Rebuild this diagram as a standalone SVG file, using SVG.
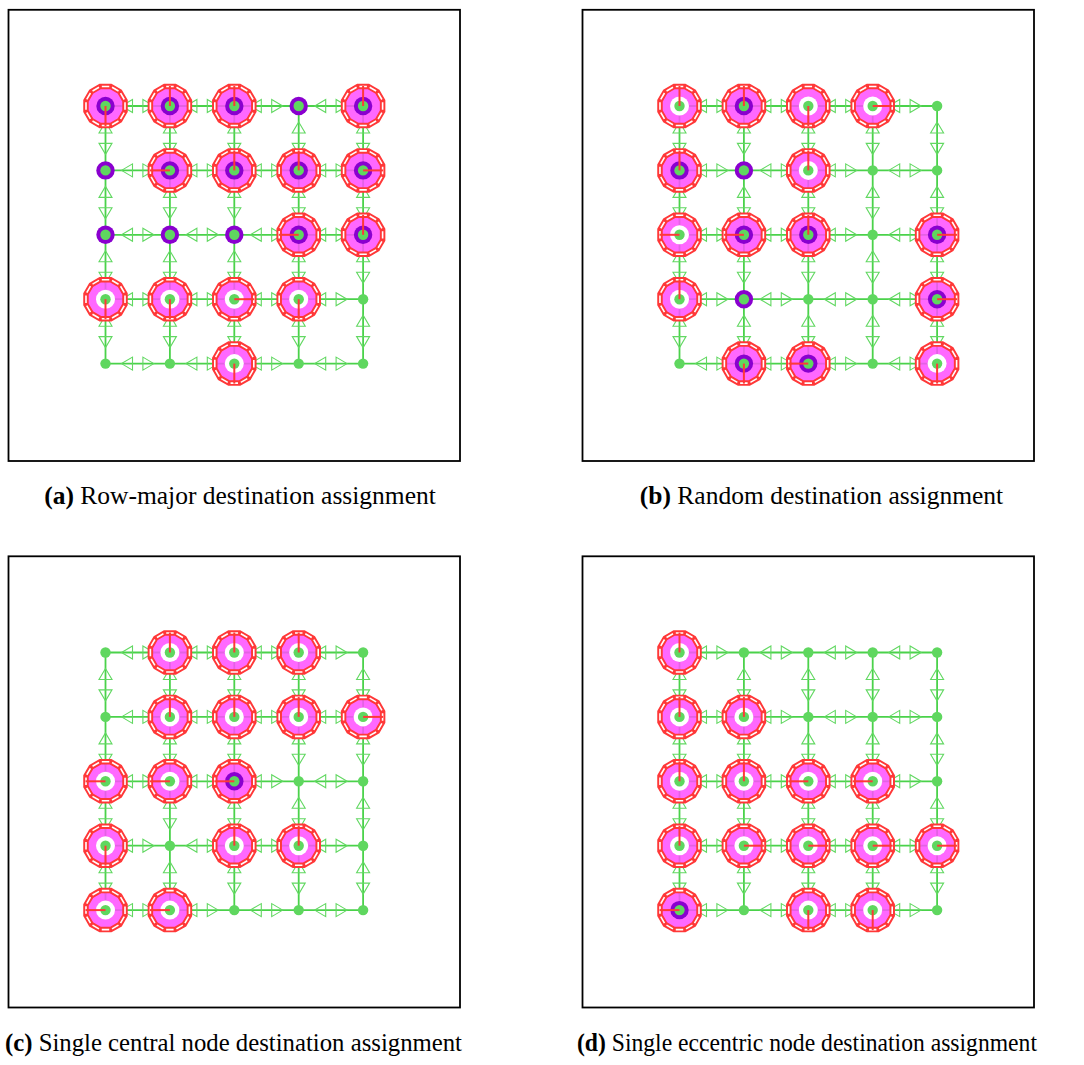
<svg xmlns="http://www.w3.org/2000/svg" xmlns:xlink="http://www.w3.org/1999/xlink" width="1084" height="1065" viewBox="0 0 1084 1065">
  <style>
    .frame{fill:none;stroke:#000;stroke-width:1.8}
    .e{stroke:#4ad24a;stroke-width:1.8;marker-start:url(#ah);marker-end:url(#ah)}
    .halo{fill:#ff4dff;fill-opacity:.85;stroke:none}
    .hole{fill:#fff}
    .rim{fill:none;stroke:#ff3838;stroke-width:5.5}
    .rimgap{fill:none;stroke:#fff;stroke-width:1.6;stroke-dasharray:7.46 3;stroke-dashoffset:8.96}
    .ring{fill:#8a00cf}
    .dot{fill:#5fd75f}
    .dir{fill:none;stroke:#ff3838;stroke-width:2}
    .cap{font-family:"Liberation Serif","Times New Roman",serif;font-size:25.5px;fill:#000}
  </style>
  <defs>
    <!-- hollow arrowhead, tip 16px short of the node centre -->
    <marker id="ah" markerUnits="userSpaceOnUse" viewBox="-12 -8 14 16" markerWidth="14" markerHeight="16" refX="16" refY="0" orient="auto-start-reverse" overflow="visible">
      <path d="M0,0 L-11,-6.5 L-11,6.5 Z" fill="none" stroke="#62d862" stroke-width="1.1"/>
    </marker>
    <!-- dodecagon outline of a router halo -->
    <polygon id="dg" points="19.51,5.23 14.28,14.28 5.23,19.51 -5.23,19.51 -14.28,14.28 -19.51,5.23 -19.51,-5.23 -14.28,-14.28 -5.23,-19.51 5.23,-19.51 14.28,-14.28 19.51,-5.23"/>
    <circle id="dot" class="dot" r="5.2"/>
    <circle id="ring" class="ring" r="9.2"/>
    <g id="band"><use href="#dg" class="rim"/><use href="#dg" class="rimgap"/></g>
    <g id="W"><use href="#dg" class="halo"/><circle class="hole" r="9.5"/><use href="#dot"/><use href="#band"/></g>
    <g id="P"><use href="#dg" class="halo"/><use href="#ring"/><use href="#dot"/><use href="#band"/></g>
    <g id="p"><use href="#ring"/><use href="#dot"/></g>
    <path id="dU" class="dir" d="M0,0V-20"/>
    <path id="dD" class="dir" d="M0,0V20"/>
    <path id="dL" class="dir" d="M0,0H-20"/>
    <path id="dR" class="dir" d="M0,0H20"/>
  </defs>
  <rect width="1084" height="1065" fill="#fff"/>

  <!-- ===== (a) ===== -->
  <g id="panel-a">
    <rect class="frame" x="8.5" y="9.8" width="451.5" height="451.2"/>
    <g id="a-connectors">
      <line class="e" x1="105.5" y1="106" x2="169.9" y2="106"/><line class="e" x1="169.9" y1="106" x2="234.3" y2="106"/><line class="e" x1="234.3" y1="106" x2="298.7" y2="106"/><line class="e" x1="298.7" y1="106" x2="363.1" y2="106"/>
      <line class="e" x1="105.5" y1="170.4" x2="169.9" y2="170.4"/><line class="e" x1="169.9" y1="170.4" x2="234.3" y2="170.4"/><line class="e" x1="234.3" y1="170.4" x2="298.7" y2="170.4"/><line class="e" x1="298.7" y1="170.4" x2="363.1" y2="170.4"/>
      <line class="e" x1="105.5" y1="234.8" x2="169.9" y2="234.8"/><line class="e" x1="169.9" y1="234.8" x2="234.3" y2="234.8"/><line class="e" x1="234.3" y1="234.8" x2="298.7" y2="234.8"/><line class="e" x1="298.7" y1="234.8" x2="363.1" y2="234.8"/>
      <line class="e" x1="105.5" y1="299.2" x2="169.9" y2="299.2"/><line class="e" x1="169.9" y1="299.2" x2="234.3" y2="299.2"/><line class="e" x1="234.3" y1="299.2" x2="298.7" y2="299.2"/><line class="e" x1="298.7" y1="299.2" x2="363.1" y2="299.2"/>
      <line class="e" x1="105.5" y1="363.6" x2="169.9" y2="363.6"/><line class="e" x1="169.9" y1="363.6" x2="234.3" y2="363.6"/><line class="e" x1="234.3" y1="363.6" x2="298.7" y2="363.6"/><line class="e" x1="298.7" y1="363.6" x2="363.1" y2="363.6"/>
      <line class="e" x1="105.5" y1="106" x2="105.5" y2="170.4"/><line class="e" x1="105.5" y1="170.4" x2="105.5" y2="234.8"/><line class="e" x1="105.5" y1="234.8" x2="105.5" y2="299.2"/><line class="e" x1="105.5" y1="299.2" x2="105.5" y2="363.6"/>
      <line class="e" x1="169.9" y1="106" x2="169.9" y2="170.4"/><line class="e" x1="169.9" y1="170.4" x2="169.9" y2="234.8"/><line class="e" x1="169.9" y1="234.8" x2="169.9" y2="299.2"/><line class="e" x1="169.9" y1="299.2" x2="169.9" y2="363.6"/>
      <line class="e" x1="234.3" y1="106" x2="234.3" y2="170.4"/><line class="e" x1="234.3" y1="170.4" x2="234.3" y2="234.8"/><line class="e" x1="234.3" y1="234.8" x2="234.3" y2="299.2"/><line class="e" x1="234.3" y1="299.2" x2="234.3" y2="363.6"/>
      <line class="e" x1="298.7" y1="106" x2="298.7" y2="170.4"/><line class="e" x1="298.7" y1="170.4" x2="298.7" y2="234.8"/><line class="e" x1="298.7" y1="234.8" x2="298.7" y2="299.2"/><line class="e" x1="298.7" y1="299.2" x2="298.7" y2="363.6"/>
      <line class="e" x1="363.1" y1="106" x2="363.1" y2="170.4"/><line class="e" x1="363.1" y1="170.4" x2="363.1" y2="234.8"/><line class="e" x1="363.1" y1="234.8" x2="363.1" y2="299.2"/><line class="e" x1="363.1" y1="299.2" x2="363.1" y2="363.6"/>
    </g>
    <g id="a-n0-0" transform="translate(105.5,106)"><use href="#P"/><use href="#dD"/></g>
    <g id="a-n0-1" transform="translate(169.9,106)"><use href="#P"/><use href="#dU"/></g>
    <g id="a-n0-2" transform="translate(234.3,106)"><use href="#P"/><use href="#dU"/></g>
    <g id="a-n0-3" transform="translate(298.7,106)"><use href="#p"/></g>
    <g id="a-n0-4" transform="translate(363.1,106)"><use href="#P"/><use href="#dU"/></g>
    <g id="a-n1-0" transform="translate(105.5,170.4)"><use href="#p"/></g>
    <g id="a-n1-1" transform="translate(169.9,170.4)"><use href="#P"/><use href="#dL"/></g>
    <g id="a-n1-2" transform="translate(234.3,170.4)"><use href="#P"/><use href="#dU"/></g>
    <g id="a-n1-3" transform="translate(298.7,170.4)"><use href="#P"/><use href="#dU"/></g>
    <g id="a-n1-4" transform="translate(363.1,170.4)"><use href="#P"/><use href="#dR"/></g>
    <g id="a-n2-0" transform="translate(105.5,234.8)"><use href="#p"/></g>
    <g id="a-n2-1" transform="translate(169.9,234.8)"><use href="#p"/></g>
    <g id="a-n2-2" transform="translate(234.3,234.8)"><use href="#p"/></g>
    <g id="a-n2-3" transform="translate(298.7,234.8)"><use href="#P"/><use href="#dL"/></g>
    <g id="a-n2-4" transform="translate(363.1,234.8)"><use href="#P"/><use href="#dU"/></g>
    <g id="a-n3-0" transform="translate(105.5,299.2)"><use href="#W"/><use href="#dD"/></g>
    <g id="a-n3-1" transform="translate(169.9,299.2)"><use href="#W"/><use href="#dD"/></g>
    <g id="a-n3-2" transform="translate(234.3,299.2)"><use href="#W"/><use href="#dR"/></g>
    <g id="a-n3-3" transform="translate(298.7,299.2)"><use href="#W"/><use href="#dD"/></g>
    <g id="a-n3-4" transform="translate(363.1,299.2)"><use href="#dot"/></g>
    <g id="a-n4-0" transform="translate(105.5,363.6)"><use href="#dot"/></g>
    <g id="a-n4-1" transform="translate(169.9,363.6)"><use href="#dot"/></g>
    <g id="a-n4-2" transform="translate(234.3,363.6)"><use href="#W"/><use href="#dD"/></g>
    <g id="a-n4-3" transform="translate(298.7,363.6)"><use href="#dot"/></g>
    <g id="a-n4-4" transform="translate(363.1,363.6)"><use href="#dot"/></g>
    <text class="cap" x="240" y="504" text-anchor="middle"><tspan font-weight="bold">(a)</tspan> Row-major destination assignment</text>
  </g>

  <!-- ===== (b) ===== -->
  <g id="panel-b" transform="translate(574,0)">
    <rect class="frame" x="8.5" y="9.8" width="451.5" height="451.2"/>
    <g id="b-connectors">
      <line class="e" x1="105.5" y1="106" x2="169.9" y2="106"/><line class="e" x1="169.9" y1="106" x2="234.3" y2="106"/><line class="e" x1="234.3" y1="106" x2="298.7" y2="106"/><line class="e" x1="298.7" y1="106" x2="363.1" y2="106"/>
      <line class="e" x1="105.5" y1="170.4" x2="169.9" y2="170.4"/><line class="e" x1="169.9" y1="170.4" x2="234.3" y2="170.4"/><line class="e" x1="234.3" y1="170.4" x2="298.7" y2="170.4"/><line class="e" x1="298.7" y1="170.4" x2="363.1" y2="170.4"/>
      <line class="e" x1="105.5" y1="234.8" x2="169.9" y2="234.8"/><line class="e" x1="169.9" y1="234.8" x2="234.3" y2="234.8"/><line class="e" x1="234.3" y1="234.8" x2="298.7" y2="234.8"/><line class="e" x1="298.7" y1="234.8" x2="363.1" y2="234.8"/>
      <line class="e" x1="105.5" y1="299.2" x2="169.9" y2="299.2"/><line class="e" x1="169.9" y1="299.2" x2="234.3" y2="299.2"/><line class="e" x1="234.3" y1="299.2" x2="298.7" y2="299.2"/><line class="e" x1="298.7" y1="299.2" x2="363.1" y2="299.2"/>
      <line class="e" x1="105.5" y1="363.6" x2="169.9" y2="363.6"/><line class="e" x1="169.9" y1="363.6" x2="234.3" y2="363.6"/><line class="e" x1="234.3" y1="363.6" x2="298.7" y2="363.6"/><line class="e" x1="298.7" y1="363.6" x2="363.1" y2="363.6"/>
      <line class="e" x1="105.5" y1="106" x2="105.5" y2="170.4"/><line class="e" x1="105.5" y1="170.4" x2="105.5" y2="234.8"/><line class="e" x1="105.5" y1="234.8" x2="105.5" y2="299.2"/><line class="e" x1="105.5" y1="299.2" x2="105.5" y2="363.6"/>
      <line class="e" x1="169.9" y1="106" x2="169.9" y2="170.4"/><line class="e" x1="169.9" y1="170.4" x2="169.9" y2="234.8"/><line class="e" x1="169.9" y1="234.8" x2="169.9" y2="299.2"/><line class="e" x1="169.9" y1="299.2" x2="169.9" y2="363.6"/>
      <line class="e" x1="234.3" y1="106" x2="234.3" y2="170.4"/><line class="e" x1="234.3" y1="170.4" x2="234.3" y2="234.8"/><line class="e" x1="234.3" y1="234.8" x2="234.3" y2="299.2"/><line class="e" x1="234.3" y1="299.2" x2="234.3" y2="363.6"/>
      <line class="e" x1="298.7" y1="106" x2="298.7" y2="170.4"/><line class="e" x1="298.7" y1="170.4" x2="298.7" y2="234.8"/><line class="e" x1="298.7" y1="234.8" x2="298.7" y2="299.2"/><line class="e" x1="298.7" y1="299.2" x2="298.7" y2="363.6"/>
      <line class="e" x1="363.1" y1="106" x2="363.1" y2="170.4"/><line class="e" x1="363.1" y1="170.4" x2="363.1" y2="234.8"/><line class="e" x1="363.1" y1="234.8" x2="363.1" y2="299.2"/><line class="e" x1="363.1" y1="299.2" x2="363.1" y2="363.6"/>
    </g>
    <g id="b-n0-0" transform="translate(105.5,106)"><use href="#W"/><use href="#dU"/></g>
    <g id="b-n0-1" transform="translate(169.9,106)"><use href="#P"/><use href="#dU"/></g>
    <g id="b-n0-2" transform="translate(234.3,106)"><use href="#W"/><use href="#dD"/></g>
    <g id="b-n0-3" transform="translate(298.7,106)"><use href="#W"/><use href="#dR"/></g>
    <g id="b-n0-4" transform="translate(363.1,106)"><use href="#dot"/></g>
    <g id="b-n1-0" transform="translate(105.5,170.4)"><use href="#P"/><use href="#dU"/></g>
    <g id="b-n1-1" transform="translate(169.9,170.4)"><use href="#p"/></g>
    <g id="b-n1-2" transform="translate(234.3,170.4)"><use href="#W"/><use href="#dU"/></g>
    <g id="b-n1-3" transform="translate(298.7,170.4)"><use href="#dot"/></g>
    <g id="b-n1-4" transform="translate(363.1,170.4)"><use href="#dot"/></g>
    <g id="b-n2-0" transform="translate(105.5,234.8)"><use href="#W"/><use href="#dL"/></g>
    <g id="b-n2-1" transform="translate(169.9,234.8)"><use href="#P"/><use href="#dL"/></g>
    <g id="b-n2-2" transform="translate(234.3,234.8)"><use href="#P"/><use href="#dU"/></g>
    <g id="b-n2-3" transform="translate(298.7,234.8)"><use href="#dot"/></g>
    <g id="b-n2-4" transform="translate(363.1,234.8)"><use href="#P"/><use href="#dR"/></g>
    <g id="b-n3-0" transform="translate(105.5,299.2)"><use href="#W"/><use href="#dU"/></g>
    <g id="b-n3-1" transform="translate(169.9,299.2)"><use href="#p"/></g>
    <g id="b-n3-2" transform="translate(234.3,299.2)"><use href="#dot"/></g>
    <g id="b-n3-3" transform="translate(298.7,299.2)"><use href="#dot"/></g>
    <g id="b-n3-4" transform="translate(363.1,299.2)"><use href="#P"/><use href="#dR"/></g>
    <g id="b-n4-0" transform="translate(105.5,363.6)"><use href="#dot"/></g>
    <g id="b-n4-1" transform="translate(169.9,363.6)"><use href="#P"/><use href="#dD"/></g>
    <g id="b-n4-2" transform="translate(234.3,363.6)"><use href="#P"/><use href="#dL"/></g>
    <g id="b-n4-3" transform="translate(298.7,363.6)"><use href="#dot"/></g>
    <g id="b-n4-4" transform="translate(363.1,363.6)"><use href="#W"/><use href="#dD"/></g>
    <text class="cap" x="247.5" y="504" text-anchor="middle"><tspan font-weight="bold">(b)</tspan> Random destination assignment</text>
  </g>

  <!-- ===== (c) ===== -->
  <g id="panel-c" transform="translate(0,546.5)">
    <rect class="frame" x="8.5" y="9.8" width="451.5" height="451.2"/>
    <g id="c-connectors">
      <line class="e" x1="105.5" y1="106" x2="169.9" y2="106"/><line class="e" x1="169.9" y1="106" x2="234.3" y2="106"/><line class="e" x1="234.3" y1="106" x2="298.7" y2="106"/><line class="e" x1="298.7" y1="106" x2="363.1" y2="106"/>
      <line class="e" x1="105.5" y1="170.4" x2="169.9" y2="170.4"/><line class="e" x1="169.9" y1="170.4" x2="234.3" y2="170.4"/><line class="e" x1="234.3" y1="170.4" x2="298.7" y2="170.4"/><line class="e" x1="298.7" y1="170.4" x2="363.1" y2="170.4"/>
      <line class="e" x1="105.5" y1="234.8" x2="169.9" y2="234.8"/><line class="e" x1="169.9" y1="234.8" x2="234.3" y2="234.8"/><line class="e" x1="234.3" y1="234.8" x2="298.7" y2="234.8"/><line class="e" x1="298.7" y1="234.8" x2="363.1" y2="234.8"/>
      <line class="e" x1="105.5" y1="299.2" x2="169.9" y2="299.2"/><line class="e" x1="169.9" y1="299.2" x2="234.3" y2="299.2"/><line class="e" x1="234.3" y1="299.2" x2="298.7" y2="299.2"/><line class="e" x1="298.7" y1="299.2" x2="363.1" y2="299.2"/>
      <line class="e" x1="105.5" y1="363.6" x2="169.9" y2="363.6"/><line class="e" x1="169.9" y1="363.6" x2="234.3" y2="363.6"/><line class="e" x1="234.3" y1="363.6" x2="298.7" y2="363.6"/><line class="e" x1="298.7" y1="363.6" x2="363.1" y2="363.6"/>
      <line class="e" x1="105.5" y1="106" x2="105.5" y2="170.4"/><line class="e" x1="105.5" y1="170.4" x2="105.5" y2="234.8"/><line class="e" x1="105.5" y1="234.8" x2="105.5" y2="299.2"/><line class="e" x1="105.5" y1="299.2" x2="105.5" y2="363.6"/>
      <line class="e" x1="169.9" y1="106" x2="169.9" y2="170.4"/><line class="e" x1="169.9" y1="170.4" x2="169.9" y2="234.8"/><line class="e" x1="169.9" y1="234.8" x2="169.9" y2="299.2"/><line class="e" x1="169.9" y1="299.2" x2="169.9" y2="363.6"/>
      <line class="e" x1="234.3" y1="106" x2="234.3" y2="170.4"/><line class="e" x1="234.3" y1="170.4" x2="234.3" y2="234.8"/><line class="e" x1="234.3" y1="234.8" x2="234.3" y2="299.2"/><line class="e" x1="234.3" y1="299.2" x2="234.3" y2="363.6"/>
      <line class="e" x1="298.7" y1="106" x2="298.7" y2="170.4"/><line class="e" x1="298.7" y1="170.4" x2="298.7" y2="234.8"/><line class="e" x1="298.7" y1="234.8" x2="298.7" y2="299.2"/><line class="e" x1="298.7" y1="299.2" x2="298.7" y2="363.6"/>
      <line class="e" x1="363.1" y1="106" x2="363.1" y2="170.4"/><line class="e" x1="363.1" y1="170.4" x2="363.1" y2="234.8"/><line class="e" x1="363.1" y1="234.8" x2="363.1" y2="299.2"/><line class="e" x1="363.1" y1="299.2" x2="363.1" y2="363.6"/>
    </g>
    <g id="c-n0-0" transform="translate(105.5,106)"><use href="#dot"/></g>
    <g id="c-n0-1" transform="translate(169.9,106)"><use href="#W"/><use href="#dU"/></g>
    <g id="c-n0-2" transform="translate(234.3,106)"><use href="#W"/><use href="#dU"/></g>
    <g id="c-n0-3" transform="translate(298.7,106)"><use href="#W"/><use href="#dU"/></g>
    <g id="c-n0-4" transform="translate(363.1,106)"><use href="#dot"/></g>
    <g id="c-n1-0" transform="translate(105.5,170.4)"><use href="#dot"/></g>
    <g id="c-n1-1" transform="translate(169.9,170.4)"><use href="#W"/><use href="#dU"/></g>
    <g id="c-n1-2" transform="translate(234.3,170.4)"><use href="#W"/><use href="#dU"/></g>
    <g id="c-n1-3" transform="translate(298.7,170.4)"><use href="#W"/><use href="#dU"/></g>
    <g id="c-n1-4" transform="translate(363.1,170.4)"><use href="#W"/><use href="#dR"/></g>
    <g id="c-n2-0" transform="translate(105.5,234.8)"><use href="#W"/><use href="#dL"/></g>
    <g id="c-n2-1" transform="translate(169.9,234.8)"><use href="#W"/><use href="#dL"/></g>
    <g id="c-n2-2" transform="translate(234.3,234.8)"><use href="#P"/><use href="#dL"/></g>
    <g id="c-n2-3" transform="translate(298.7,234.8)"><use href="#dot"/></g>
    <g id="c-n2-4" transform="translate(363.1,234.8)"><use href="#dot"/></g>
    <g id="c-n3-0" transform="translate(105.5,299.2)"><use href="#W"/><use href="#dD"/></g>
    <g id="c-n3-1" transform="translate(169.9,299.2)"><use href="#dot"/></g>
    <g id="c-n3-2" transform="translate(234.3,299.2)"><use href="#W"/><use href="#dU"/></g>
    <g id="c-n3-3" transform="translate(298.7,299.2)"><use href="#W"/><use href="#dU"/></g>
    <g id="c-n3-4" transform="translate(363.1,299.2)"><use href="#dot"/></g>
    <g id="c-n4-0" transform="translate(105.5,363.6)"><use href="#W"/><use href="#dL"/></g>
    <g id="c-n4-1" transform="translate(169.9,363.6)"><use href="#W"/><use href="#dL"/></g>
    <g id="c-n4-2" transform="translate(234.3,363.6)"><use href="#dot"/></g>
    <g id="c-n4-3" transform="translate(298.7,363.6)"><use href="#dot"/></g>
    <g id="c-n4-4" transform="translate(363.1,363.6)"><use href="#dot"/></g>
    <text class="cap" x="5" y="504" textLength="457" lengthAdjust="spacingAndGlyphs"><tspan font-weight="bold">(c)</tspan> Single central node destination assignment</text>
  </g>

  <!-- ===== (d) ===== -->
  <g id="panel-d" transform="translate(574,546.5)">
    <rect class="frame" x="8.5" y="9.8" width="451.5" height="451.2"/>
    <g id="d-connectors">
      <line class="e" x1="105.5" y1="106" x2="169.9" y2="106"/><line class="e" x1="169.9" y1="106" x2="234.3" y2="106"/><line class="e" x1="234.3" y1="106" x2="298.7" y2="106"/><line class="e" x1="298.7" y1="106" x2="363.1" y2="106"/>
      <line class="e" x1="105.5" y1="170.4" x2="169.9" y2="170.4"/><line class="e" x1="169.9" y1="170.4" x2="234.3" y2="170.4"/><line class="e" x1="234.3" y1="170.4" x2="298.7" y2="170.4"/><line class="e" x1="298.7" y1="170.4" x2="363.1" y2="170.4"/>
      <line class="e" x1="105.5" y1="234.8" x2="169.9" y2="234.8"/><line class="e" x1="169.9" y1="234.8" x2="234.3" y2="234.8"/><line class="e" x1="234.3" y1="234.8" x2="298.7" y2="234.8"/><line class="e" x1="298.7" y1="234.8" x2="363.1" y2="234.8"/>
      <line class="e" x1="105.5" y1="299.2" x2="169.9" y2="299.2"/><line class="e" x1="169.9" y1="299.2" x2="234.3" y2="299.2"/><line class="e" x1="234.3" y1="299.2" x2="298.7" y2="299.2"/><line class="e" x1="298.7" y1="299.2" x2="363.1" y2="299.2"/>
      <line class="e" x1="105.5" y1="363.6" x2="169.9" y2="363.6"/><line class="e" x1="169.9" y1="363.6" x2="234.3" y2="363.6"/><line class="e" x1="234.3" y1="363.6" x2="298.7" y2="363.6"/><line class="e" x1="298.7" y1="363.6" x2="363.1" y2="363.6"/>
      <line class="e" x1="105.5" y1="106" x2="105.5" y2="170.4"/><line class="e" x1="105.5" y1="170.4" x2="105.5" y2="234.8"/><line class="e" x1="105.5" y1="234.8" x2="105.5" y2="299.2"/><line class="e" x1="105.5" y1="299.2" x2="105.5" y2="363.6"/>
      <line class="e" x1="169.9" y1="106" x2="169.9" y2="170.4"/><line class="e" x1="169.9" y1="170.4" x2="169.9" y2="234.8"/><line class="e" x1="169.9" y1="234.8" x2="169.9" y2="299.2"/><line class="e" x1="169.9" y1="299.2" x2="169.9" y2="363.6"/>
      <line class="e" x1="234.3" y1="106" x2="234.3" y2="170.4"/><line class="e" x1="234.3" y1="170.4" x2="234.3" y2="234.8"/><line class="e" x1="234.3" y1="234.8" x2="234.3" y2="299.2"/><line class="e" x1="234.3" y1="299.2" x2="234.3" y2="363.6"/>
      <line class="e" x1="298.7" y1="106" x2="298.7" y2="170.4"/><line class="e" x1="298.7" y1="170.4" x2="298.7" y2="234.8"/><line class="e" x1="298.7" y1="234.8" x2="298.7" y2="299.2"/><line class="e" x1="298.7" y1="299.2" x2="298.7" y2="363.6"/>
      <line class="e" x1="363.1" y1="106" x2="363.1" y2="170.4"/><line class="e" x1="363.1" y1="170.4" x2="363.1" y2="234.8"/><line class="e" x1="363.1" y1="234.8" x2="363.1" y2="299.2"/><line class="e" x1="363.1" y1="299.2" x2="363.1" y2="363.6"/>
    </g>
    <g id="d-n0-0" transform="translate(105.5,106)"><use href="#W"/><use href="#dU"/></g>
    <g id="d-n0-1" transform="translate(169.9,106)"><use href="#dot"/></g>
    <g id="d-n0-2" transform="translate(234.3,106)"><use href="#dot"/></g>
    <g id="d-n0-3" transform="translate(298.7,106)"><use href="#dot"/></g>
    <g id="d-n0-4" transform="translate(363.1,106)"><use href="#dot"/></g>
    <g id="d-n1-0" transform="translate(105.5,170.4)"><use href="#W"/><use href="#dU"/></g>
    <g id="d-n1-1" transform="translate(169.9,170.4)"><use href="#W"/><use href="#dU"/></g>
    <g id="d-n1-2" transform="translate(234.3,170.4)"><use href="#dot"/></g>
    <g id="d-n1-3" transform="translate(298.7,170.4)"><use href="#dot"/></g>
    <g id="d-n1-4" transform="translate(363.1,170.4)"><use href="#dot"/></g>
    <g id="d-n2-0" transform="translate(105.5,234.8)"><use href="#W"/><use href="#dU"/></g>
    <g id="d-n2-1" transform="translate(169.9,234.8)"><use href="#W"/><use href="#dU"/></g>
    <g id="d-n2-2" transform="translate(234.3,234.8)"><use href="#W"/><use href="#dL"/></g>
    <g id="d-n2-3" transform="translate(298.7,234.8)"><use href="#W"/><use href="#dL"/></g>
    <g id="d-n2-4" transform="translate(363.1,234.8)"><use href="#dot"/></g>
    <g id="d-n3-0" transform="translate(105.5,299.2)"><use href="#W"/><use href="#dU"/></g>
    <g id="d-n3-1" transform="translate(169.9,299.2)"><use href="#W"/><use href="#dR"/></g>
    <g id="d-n3-2" transform="translate(234.3,299.2)"><use href="#W"/><use href="#dR"/></g>
    <g id="d-n3-3" transform="translate(298.7,299.2)"><use href="#W"/><use href="#dR"/></g>
    <g id="d-n3-4" transform="translate(363.1,299.2)"><use href="#W"/><use href="#dR"/></g>
    <g id="d-n4-0" transform="translate(105.5,363.6)"><use href="#P"/><use href="#dL"/></g>
    <g id="d-n4-1" transform="translate(169.9,363.6)"><use href="#dot"/></g>
    <g id="d-n4-2" transform="translate(234.3,363.6)"><use href="#W"/><use href="#dD"/></g>
    <g id="d-n4-3" transform="translate(298.7,363.6)"><use href="#W"/><use href="#dD"/></g>
    <g id="d-n4-4" transform="translate(363.1,363.6)"><use href="#dot"/></g>
    <text class="cap" x="3" y="504" textLength="460" lengthAdjust="spacingAndGlyphs"><tspan font-weight="bold">(d)</tspan> Single eccentric node destination assignment</text>
  </g>
</svg>
